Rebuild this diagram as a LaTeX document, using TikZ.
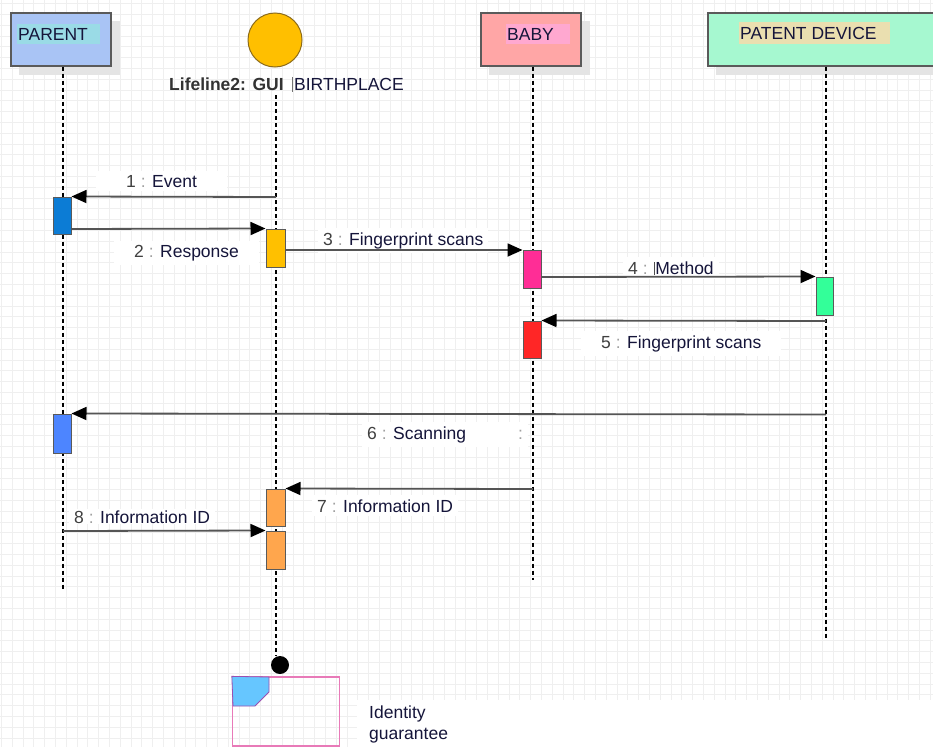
\documentclass[tikz,border=0pt]{standalone}
\usepackage{fontspec}
\setmainfont{Liberation Sans}
\usetikzlibrary{arrows.meta}
\definecolor{gridc}{HTML}{EFEFEF}
\definecolor{shadowc}{HTML}{E4E4E4}
\definecolor{boxborder}{HTML}{5A5A5A}
\definecolor{parentc}{HTML}{A9C4F5}
\definecolor{parenthl}{HTML}{9ADBE6}
\definecolor{babyc}{HTML}{FFA6A6}
\definecolor{babyhl}{HTML}{FFA8D0}
\definecolor{devc}{HTML}{A6F8D0}
\definecolor{devhl}{HTML}{EADFB0}
\definecolor{guic}{HTML}{FFBF00}
\definecolor{guiborder}{HTML}{8C6B1A}
\definecolor{txtc}{HTML}{15153A}
\definecolor{numc}{HTML}{404040}
\definecolor{colc}{HTML}{A0A0A0}
\definecolor{msgc}{HTML}{555555}
\definecolor{actA}{HTML}{0C7CD5}
\definecolor{actB}{HTML}{FFC000}
\definecolor{actC}{HTML}{FF2D96}
\definecolor{actD}{HTML}{33FF99}
\definecolor{actE}{HTML}{FF2626}
\definecolor{actF}{HTML}{4D85FF}
\definecolor{actG}{HTML}{FFA64D}
\definecolor{pinkb}{HTML}{E87AB8}
\definecolor{bluein}{HTML}{66C6FF}
\definecolor{purpb}{HTML}{9B4FB0}
\begin{document}
\begin{tikzpicture}[x=1pt,y=-1pt,
  actorbox/.style={draw=boxborder, line width=1.3pt, minimum width=100, minimum height=53, inner sep=0},
  actlabel/.style={anchor=west, text=txtc, font=\fontsize{17.5}{20}\selectfont, inner sep=0},
  lifeline/.style={draw=black, line width=1.1pt, dash pattern=on 4pt off 3pt},
  actbar/.style={draw=boxborder, line width=1pt, minimum width=18, minimum height=37, inner sep=0},
  msg/.style={draw=msgc, line width=1.8pt, -{Triangle[length=15pt,width=13pt,fill=black,color=black]}},
  msglabel/.style={anchor=base west, fill=white, inner xsep=5pt, inner ysep=4pt, text=txtc, font=\fontsize{17.5}{20}\selectfont},
]
\useasboundingbox (0,0) rectangle (933,747);
\fill[white] (0,0) rectangle (933,747);
% grid
\foreach \i in {0,...,86} \draw[gridc, line width=0.6pt] (1.3+\i*10.8,0) -- (1.3+\i*10.8,747);
\foreach \j in {0,...,69} \draw[gridc, line width=0.6pt] (0,3.4+\j*10.8) -- (933,3.4+\j*10.8);

% shadows
\fill[shadowc] (19,21) rectangle (120,75);
\fill[shadowc] (489,21) rectangle (590,75);
\fill[shadowc] (716,21) rectangle (933,75);

% actors
\node[actorbox, fill=parentc] (parent) at (61,39.5) {};
\fill[parenthl] (17,24) rectangle (100,44);
\node[actlabel] (parentlbl) at (18,34) {PARENT};

\node[draw=guiborder, line width=1pt, fill=guic, circle, minimum size=54, inner sep=0] (gui) at (275,40) {};
\node[anchor=base west, inner sep=0, font=\fontsize{17.5}{20}\selectfont\bfseries, text=black!80] (guilbl) at (169,90) {Lifeline2: GUI};
\fill[black!55] (292,77) rectangle (293.4,92);
\node[anchor=base west, inner sep=0, font=\fontsize{17.5}{20}\selectfont, text=txtc] (birth) at (294,90) {BIRTHPLACE};

\node[actorbox, fill=babyc] (baby) at (531,39.5) {};
\fill[babyhl] (506,24) rectangle (570,44);
\node[actlabel] (babylbl) at (507,34) {BABY};

\node[actorbox, fill=devc, minimum width=240] (dev) at (828,39.5) {};
\fill[devhl] (739,22) rectangle (890,44);
\node[actlabel] (devlbl) at (740,33) {PATENT DEVICE};

% lifeline ends
\coordinate (parentend) at (63,590);
\coordinate (guitop) at (276,95);
\coordinate (babyend) at (533,580);
\coordinate (devend) at (826,638);
\node[fill=black, circle, minimum size=18, inner sep=0] (enddot) at (280,665) {};

\draw[lifeline] (parent.south -| parentend) -- (parentend);
\draw[lifeline] (guitop) -- (276,656);
\draw[lifeline] (baby.south -| babyend) -- (babyend);
\draw[lifeline] (dev.south -| devend) -- (devend);

% activation bars
\node[actbar, fill=actA] (a1) at (62,215.5) {};
\node[actbar, fill=actB, minimum width=19, minimum height=38] (a2) at (275.5,248) {};
\node[actbar, fill=actC, minimum height=38] (a3) at (532,269) {};
\node[actbar, fill=actD, minimum width=17, minimum height=38] (a4) at (824.5,296) {};
\node[actbar, fill=actE] (a5) at (532,339.5) {};
\node[actbar, fill=actF, minimum height=39] (a6) at (62,433.5) {};
\node[actbar, fill=actG, minimum width=19] (a7) at (275.5,507.5) {};
\node[actbar, fill=actG, minimum width=19, minimum height=38] (a8) at (275.5,550) {};

% message start points
\coordinate (m1s) at (276,197);
\coordinate (m2s) at (71,229);
\coordinate (m3s) at (285,250);
\coordinate (m4s) at (541,277);
\coordinate (m5s) at (826,321);
\coordinate (m6s) at (826,414.5);
\coordinate (m7s) at (533,489);
\coordinate (m8s) at (63,531);

% labels (white backgrounds)
\node[msglabel, inner xsep=30pt] (l1) at (96,187) {\textcolor{numc}{1} \textcolor{colc}{:} Event};
\node[msglabel, inner xsep=20pt] (l2) at (114,257) {\textcolor{numc}{2} \textcolor{colc}{:} Response};
\node[msglabel] (l3) at (318,245) {\textcolor{numc}{3} \textcolor{colc}{:} Fingerprint scans};
\node[msglabel] (l4) at (623,274) {\textcolor{numc}{4} \textcolor{colc}{:} \textcolor{black!70}{\rule[-1pt]{1.2pt}{13pt}}Method};
\node[msglabel, inner xsep=20pt] (l5) at (581,348) {\textcolor{numc}{5} \textcolor{colc}{:} Fingerprint scans};
\node[msglabel] (l6) at (362,439) {\textcolor{numc}{6} \textcolor{colc}{:} Scanning\hspace{52pt}\textcolor{colc}{:}};
\node[msglabel] (l7) at (312,512) {\textcolor{numc}{7} \textcolor{colc}{:} Information ID};
\node[msglabel, inner ysep=1pt] (l8) at (69,523) {\textcolor{numc}{8} \textcolor{colc}{:} Information ID};

% messages
\draw[msg] (m1s) -- (a1.north east);
\draw[msg] (m2s) -- (a2.north west);
\draw[msg] (m3s) -- (m3s -| a3.west);
\draw[msg] (m4s) -- (a4.north west);
\draw[msg] (m5s) -- (a5.north east);
\draw[msg] (m6s) -- (a6.north east);
\draw[msg] (m7s) -- (a7.north east);
\draw[msg] (m8s) -- (a8.north west);

% bottom object
\fill[white] (357,700) rectangle (933,747);
\node[draw=pinkb, line width=1.3pt, minimum width=107, minimum height=69, inner sep=0] (objbox) at (286,711.5) {};
\filldraw[fill=bluein, draw=purpb, line width=0.8pt] (objbox.north west) -- (269,677) -- (269,692) -- (255,706) -- (233,706) -- cycle;
\node[anchor=base west, inner sep=0, text=txtc, font=\fontsize{17.5}{20}\selectfont] (objlbl1) at (369,718) {Identity};
\node[anchor=base west, inner sep=0, text=txtc, font=\fontsize{17.5}{20}\selectfont] (objlbl2) at (369,739) {guarantee};
\end{tikzpicture}
\end{document}
